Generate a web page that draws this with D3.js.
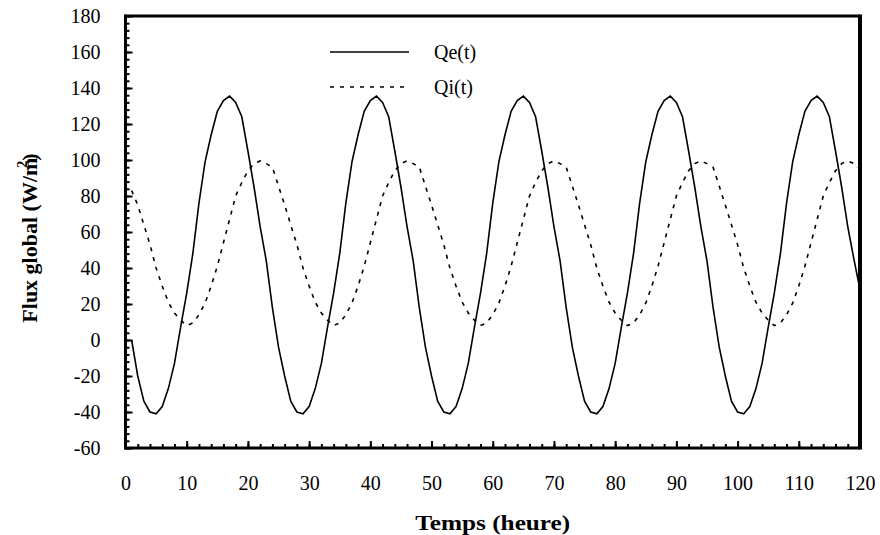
<!DOCTYPE html>
<html>
  <head>
    <meta charset="utf-8">
    <title>Flux global</title>
    <style media="screen">
    body{margin: 0; background: #fff}
    text {font-family: "Liberation Serif", "Times New Roman", serif; fill: #000}
    </style>
  </head>
  <body>
    <script src="https://d3js.org/d3.v7.min.js"></script>
    <script type="text/javascript">
      // hourly values, t = 1 .. 120 h
      var qe = [
        0, -20, -34, -40, -41, -37, -27, -13, 7, 26, 48, 76, 99, 114, 127, 133, 135.5, 132, 124, 105, 85, 63, 44, 18,
        -4, -20, -34, -40, -41, -37, -27, -13, 7, 26, 48, 76, 99, 114, 127, 133, 135.5, 132, 124, 105, 85, 63, 44, 18,
        -4, -20, -34, -40, -41, -37, -27, -13, 7, 26, 48, 76, 99, 114, 127, 133, 135.5, 132, 124, 105, 85, 63, 44, 18,
        -4, -20, -34, -40, -41, -37, -27, -13, 7, 26, 48, 76, 99, 114, 127, 133, 135.5, 132, 124, 105, 85, 63, 44, 18,
        -4, -20, -34, -40, -41, -37, -27, -13, 7, 26, 48, 76, 99, 114, 127, 133, 135.5, 132, 124, 105, 85, 63, 45, 28
      ]
      var qi = [
        83, 75, 64, 53, 40, 30, 21, 15, 11, 8, 9.5, 14, 20.5, 30, 41, 54, 67, 80, 87.5, 94, 98, 99.5, 98, 96,
        85.5, 75, 64, 53, 40, 30, 21, 15, 11, 8, 9.5, 14, 20.5, 30, 41, 54, 67, 80, 87.5, 94, 98, 99.5, 98, 96,
        85.5, 75, 64, 53, 40, 30, 21, 15, 11, 8, 9.5, 14, 20.5, 30, 41, 54, 67, 80, 87.5, 94, 98, 99.5, 98, 96,
        85.5, 75, 64, 53, 40, 30, 21, 15, 11, 8, 9.5, 14, 20.5, 30, 41, 54, 67, 80, 87.5, 94, 98, 99.5, 98, 96,
        85.5, 75, 64, 53, 40, 30, 21, 15, 11, 8, 9.5, 14, 20.5, 30, 41, 54, 67, 80, 87.5, 94, 98, 99.5, 98, 95
      ]
      var hours = qe.map(function(d, i){ return i + 1 })

      var xTicks = [0, 10, 20, 30, 40, 50, 60, 70, 80, 90, 100, 110, 120]
      var yTicks = [-60, -40, -20, 0, 20, 40, 60, 80, 100, 120, 140, 160, 180]
      var series = [
        {name: 'Qe(t)', values: qe, dash: null},
        {name: 'Qi(t)', values: qi, dash: '4,6'}
      ]

      var w = 880, h = 535
      // note: "top" is taken by window.top, hence the prefixes
      var pLeft = 125.5, pRight = 860, pTop = 16, pBottom = 448

      var x = d3.scaleLinear().domain([0, 120]).range([pLeft, pRight])
      var y = d3.scaleLinear().domain([-60, 180]).range([pBottom, pTop])

      var svg = d3.select('body').append('svg')
        .attr('width', w)
        .attr('height', h)

      // minor ticks
      svg.append('g')
        .attr('transform', 'translate(0,' + pBottom + ')')
        .call(d3.axisBottom(x).tickValues(d3.range(0, 121, 2)).tickSize(-4).tickFormat(''))
        .call(function(g){ g.select('.domain').remove() })
      svg.append('g')
        .attr('transform', 'translate(' + pLeft + ',0)')
        .call(d3.axisLeft(y).tickValues(d3.range(-60, 181, 4)).tickSize(-4).tickFormat(''))
        .call(function(g){ g.select('.domain').remove() })

      // major ticks + labels (plain hyphen for negatives, like the original)
      var plain = function(d){ return String(d) }
      var xAxis = svg.append('g')
        .attr('transform', 'translate(0,' + pBottom + ')')
        .call(d3.axisBottom(x).tickValues(xTicks).tickFormat(plain).tickSize(-7).tickPadding(28))
      var yAxis = svg.append('g')
        .attr('transform', 'translate(' + pLeft + ',0)')
        .call(d3.axisLeft(y).tickValues(yTicks).tickFormat(plain).tickSize(-7).tickPadding(25))

      ;[xAxis, yAxis].forEach(function(g){
        g.select('.domain').remove()
        g.selectAll('text').attr('font-size', 20).attr('font-family', '"Liberation Serif", serif')
      })
      svg.selectAll('.tick line').attr('stroke', '#000').attr('stroke-width', 2)

      // curves
      var line = d3.line()
        .x(function(d, i){ return x(hours[i]) })
        .y(function(d){ return y(d) })

      svg.selectAll('.curve')
        .data(series)
        .enter()
          .append('path')
          .attr('class', 'curve')
          .attr('d', function(s){ return line(s.values) })
          .attr('fill', 'none')
          .attr('stroke', '#000')
          .attr('stroke-width', 1.6)
          .attr('stroke-dasharray', function(s){ return s.dash })

      // frame
      svg.append('line').attr('x1', pLeft).attr('x2', pRight).attr('y1', pTop).attr('y2', pTop)
        .attr('stroke', '#000').attr('stroke-width', 3)
      svg.append('line').attr('x1', pLeft).attr('x2', pRight).attr('y1', pBottom).attr('y2', pBottom)
        .attr('stroke', '#000').attr('stroke-width', 3)
      svg.append('line').attr('x1', pLeft).attr('x2', pLeft).attr('y1', pTop - 1.5).attr('y2', pBottom + 1.5)
        .attr('stroke', '#000').attr('stroke-width', 3)
      svg.append('line').attr('x1', pRight).attr('x2', pRight).attr('y1', pTop - 1.5).attr('y2', pBottom + 1.5)
        .attr('stroke', '#000').attr('stroke-width', 4)

      // legend
      var legend = svg.selectAll('.legend')
        .data(series)
        .enter()
          .append('g')
          .attr('class', 'legend')
          .attr('transform', function(d, i){ return 'translate(330,' + (52 + i * 35) + ')' })
      legend.append('line')
        .attr('x1', 0).attr('x2', 79)
        .attr('stroke', '#000').attr('stroke-width', 1.6)
        .attr('stroke-dasharray', function(s){ return s.dash })
      legend.append('text')
        .attr('x', 104).attr('y', 6.5)
        .attr('font-size', 20)
        .text(function(s){ return s.name })

      // axis titles
      svg.append('text')
        .attr('x', (pLeft + pRight) / 2).attr('y', 530)
        .attr('text-anchor', 'middle')
        .attr('font-size', 21).attr('font-weight', 'bold')
        .attr('textLength', 155).attr('lengthAdjust', 'spacingAndGlyphs')
        .text('Temps (heure)')

      var yt = svg.append('text')
        .attr('transform', 'translate(37,238) rotate(-90)')
        .attr('text-anchor', 'middle')
        .attr('font-size', 22).attr('font-weight', 'bold')
      yt.append('tspan').text('Flux global (W/m')
      yt.append('tspan').attr('font-size', 14).attr('dy', -10).attr('dx', -10).text('2')
      yt.append('tspan').attr('dy', 10).text(')')
    </script>
  </body>
</html>
